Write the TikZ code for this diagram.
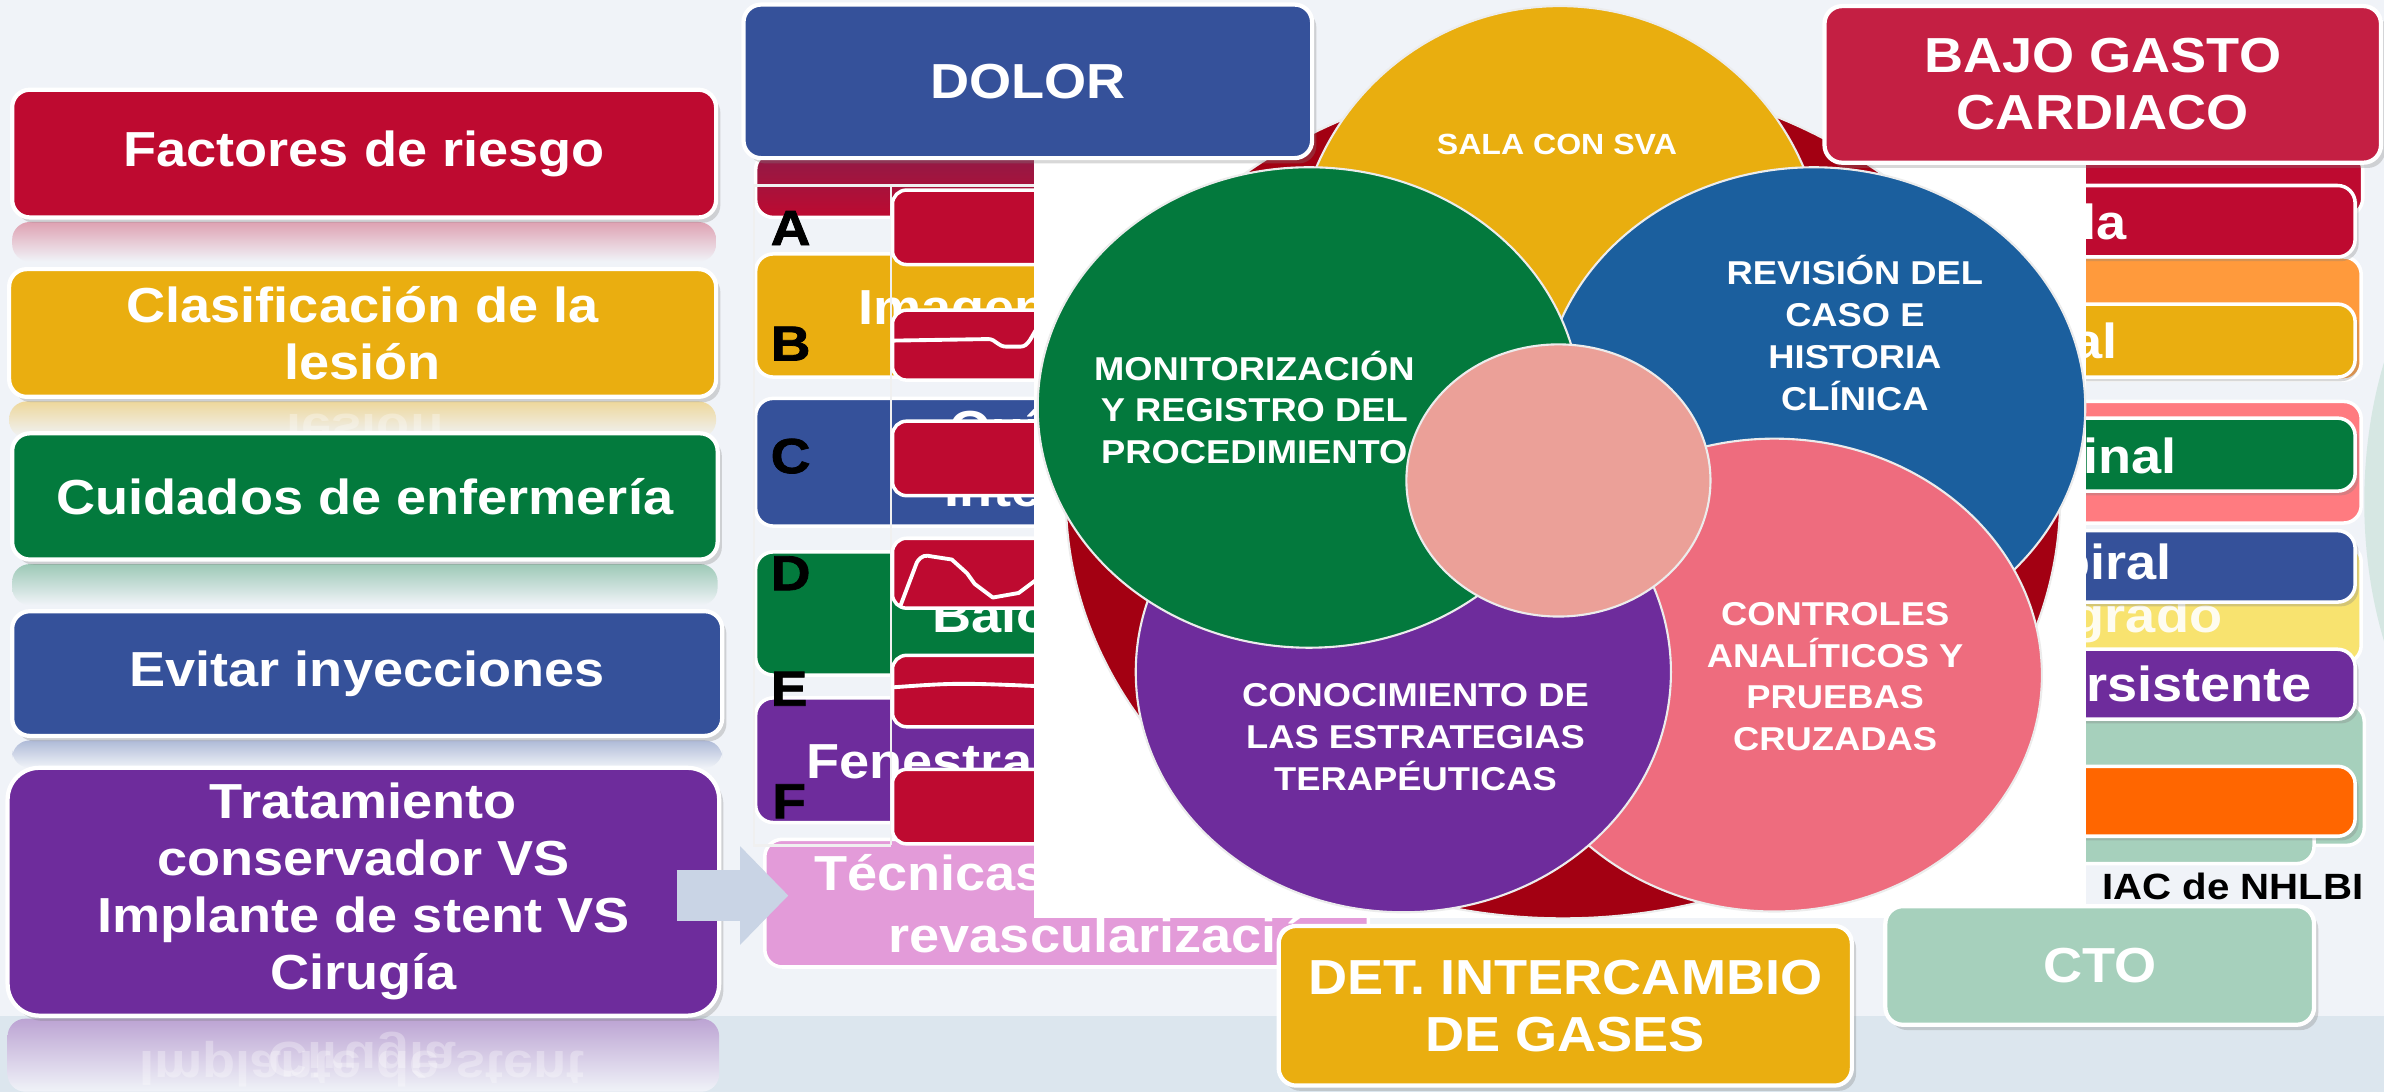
\documentclass[tikz,border=0pt]{standalone}
\usepackage{fontspec}
\setmainfont{Liberation Sans}[FakeStretch=1.1]
\newfontfamily\heavyfont{Liberation Sans}[FakeStretch=1.12,BoldFeatures={FakeBold=1.6}]
\usetikzlibrary{shapes.geometric,shadows,arrows.meta}
\definecolor{cbg}{HTML}{F0F3F8}
\definecolor{cbg2}{HTML}{DCE6EE}
\definecolor{cred}{HTML}{BE0A30}
\definecolor{cdred}{HTML}{8E1B48}
\definecolor{cyel}{HTML}{EAAE10}
\definecolor{cgrn}{HTML}{037A3D}
\definecolor{cblu}{HTML}{35519A}
\definecolor{cpur}{HTML}{6E2C9C}
\definecolor{cpnk}{HTML}{E39BD9}
\definecolor{cbajo}{HTML}{C41F43}
\definecolor{ccto}{HTML}{A6D0BC}
\definecolor{corg}{HTML}{FF9A3C}
\definecolor{corg2}{HTML}{FF6600}
\definecolor{csal}{HTML}{FF7B80}
\definecolor{cpyl}{HTML}{F8E36F}
\definecolor{carr}{HTML}{C9D4E5}
\definecolor{kred}{HTML}{A30012}
\definecolor{kyel}{HTML}{E9AE0F}
\definecolor{kgrn}{HTML}{03793D}
\definecolor{kblu}{HTML}{1B5F9E}
\definecolor{kpur}{HTML}{6E2C9C}
\definecolor{kpnk}{HTML}{EE6C7E}
\definecolor{kcen}{HTML}{EBA098}
\begin{document}
\begin{tikzpicture}[x=0.15204mm,y=-0.15204mm,
 sz/.style 2 args={minimum width=#1*0.15204mm,minimum height=#2*0.15204mm},
 bx/.style={draw=white,line width=1.2pt,rounded corners=5pt,text=white,align=center,inner sep=0pt,font=\fontsize{14}{16.2}\selectfont\bfseries,drop shadow={opacity=.3,shadow xshift=1.2pt,shadow yshift=-1.5pt}},
 mb/.style={draw=white,line width=1pt,rounded corners=5pt,inner sep=0pt},
 rb/.style={mb,drop shadow={opacity=.3,shadow xshift=1pt,shadow yshift=-1.2pt}},
 ecg/.style={fill=cred,draw=white,line width=1pt,rounded corners=4pt,inner sep=0pt},
 wv/.style={white,line width=1.1pt,line join=round},
 tx/.style={text=white,inner sep=0pt,font=\fontsize{14}{16.2}\selectfont\bfseries},
 lt/.style={inner sep=0pt,font=\fontsize{14}{14}\heavyfont\bfseries},
 ell/.style={ellipse,draw=white!85!gray,line width=.6pt,inner sep=0pt},
 ct/.style={text=white,align=center,inner sep=0pt,font=\fontsize{9.4}{11.9}\selectfont\bfseries},
 rf/.style={text=white,opacity=.3,inner sep=0pt,font=\fontsize{14}{16.2}\selectfont\bfseries}]
\useasboundingbox (0,0) rectangle (1568,718);
\fill[cbg] (0,0) rectangle (1568,718);
\fill[cbg2] (0,668) rectangle (1568,718);
\fill[ccto!35!cbg] (1705,330) ellipse [x radius=150,y radius=225];
% left column
\shade[top color=cred!35!cbg,bottom color=cbg,rounded corners=5pt] (8,146) rectangle (471,172);
\shade[top color=cyel!40!cbg,bottom color=cbg,rounded corners=5pt] (6,264) rectangle (471,288);
\node[rf] (lesionr) at (240,284) {\scalebox{1}[-1]{lesión}};
\shade[top color=cgrn!35!cbg,bottom color=cbg,rounded corners=5pt] (8,371) rectangle (472,398);
\shade[top color=cblu!35!cbg,bottom color=cbg,rounded corners=5pt] (8,487) rectangle (475,505);
\shade[top color=cpur!40!cbg,bottom color=cbg,rounded corners=5pt] (5,670) rectangle (473,718);
\node[rf] (implr) at (238,700) {\scalebox{1}[-1]{Implante de stent}};
\node[rf] (cirr) at (238,694) {\scalebox{1}[-1]{Cirugía}};
\node[bx,fill=cred,sz={463}{84}] (riesgo) at (239.5,101) {Factores de riesgo};
\node[bx,fill=cyel,sz={465}{84}] (lesion) at (238.5,219) {Clasificación de la\\lesión};
\node[bx,fill=cgrn,sz={464}{83}] (cuidados) at (240,326.5) {Cuidados de enfermería};
\node[bx,fill=cblu,sz={467}{82}] (evitar) at (241.5,443) {Evitar inyecciones};
\node[bx,fill=cpur,rounded corners=9pt,sz={468}{163}] (trat) at (239,586.5) {Tratamiento\\conservador VS\\Implante de stent VS\\Cirugía};
% middle stack
\node[mb,top color=cdred,bottom color=cred,sz={208}{43}] (dred) at (601,121.5) {};
\node[mb,fill=cyel,sz={208}{81}] (imgbox) at (601,207.5) {};
\node[mb,fill=cblu,sz={208}{84}] (quibox) at (601,304) {};
\node[mb,fill=cgrn,sz={208}{81}] (balbox) at (601,403.5) {};
\node[mb,fill=cpur,sz={208}{82}] (fenbox) at (601,500) {};
\node[mb,fill=cpnk,sz={397}{84}] (tecbox) at (701.5,594) {};
\node[tx,anchor=west] (imgt) at (564,206) {Imagen};
\node[tx,anchor=west] (quit) at (624,284) {Quí};
\node[tx,anchor=west] (intt) at (621,322) {Inte};
\node[tx,anchor=west] (balt) at (613,404) {Balón};
\node[tx,anchor=west] (fent) at (530,500) {Fenestración};
\node[tx,anchor=west] (tect) at (535,574) {Técnicas de};
\node[tx,anchor=west] (revt) at (584,615) {revascularización};
\draw[white!88!gray,line width=.7pt] (586,556) -- (496,556) -- (496,122) -- (700,122) (586,122) -- (586,556);
\node[ecg,sz={118}{49}] (ecga) at (646,149.5) {};
\node[ecg,sz={118}{46}] (ecgb) at (646,227) {};
\node[ecg,sz={118}{49}] (ecgc) at (646,301.5) {};
\node[ecg,sz={118}{46}] (ecgd) at (646,377) {};
\node[ecg,sz={118}{47}] (ecge) at (646,454.5) {};
\node[ecg,sz={118}{49}] (ecgf) at (646,530.5) {};
\draw[wv] (588,224) -- (650,223) .. controls (655,223) and (656,228) .. (662,228) -- (671,228) .. controls (677,228) and (678,221) .. (684,213);
\draw[wv] (592,399) -- (603,370) .. controls (606,365) and (609,365) .. (613,366) -- (626,368) -- (636,377) -- (641,384) -- (653,393) -- (670,390) -- (682,381);
\draw[wv] (588,452) .. controls (630,449) .. (700,452);
\node[lt] (la) at (520,150) {A};
\node[lt] (lb) at (520,226) {B};
\node[lt] (lc) at (520,300) {C};
\node[lt] (ld) at (520,377) {D};
\node[lt] (le) at (519,453) {E};
\node[lt] (lf) at (519,527) {F};
\coordinate (arra) at (445,589);
\coordinate (arrb) at (518.5,589);
\draw[carr,line width=14.3pt,-{Triangle[length=13.7pt,width=27.2pt]}] (arra) -- (arrb);
% right stack
\node[mb,fill=cred,sz={214}{42}] (rred) at (1447,121) {};
\node[mb,fill=corg,sz={213}{81}] (rorg) at (1446.5,209.5) {};
\node[mb,fill=csal,sz={213}{80}] (rsal) at (1446.5,304) {};
\node[mb,fill=cpyl,sz={213}{78}] (rpyl) at (1446.5,397) {};
\node[tx,anchor=east,opacity=.9] (gradot) at (1462,408) {grado};
\node[mb,fill=ccto,sz={215}{93}] (rcto) at (1447.5,509.5) {};
\node[mb,fill=ccto,sz={182}{28}] (rcto2) at (1431,554) {};
\node[rb,fill=cred,sz={209}{47}] (rvida) at (1444.5,145.5) {};
\node[rb,fill=cyel,sz={209}{48}] (ryel) at (1444.5,224) {};
\node[rb,fill=cgrn,sz={209}{48}] (rgrn) at (1444.5,299) {};
\node[rb,fill=cblu,sz={209}{47}] (rblu) at (1444.5,372.5) {};
\node[rb,fill=cpur,sz={209}{46}] (rpur) at (1444.5,450) {};
\node[rb,fill=corg2,sz={209}{46}] (rorg2) at (1444.5,527) {};
\node[tx,anchor=east] (vidat) at (1399,146) {vida};
\node[tx,anchor=east] (alt) at (1393,224) {al};
\node[tx,anchor=east] (inalt) at (1432,300) {inal};
\node[tx,anchor=east] (iralt) at (1429,373) {piral};
\node[tx,anchor=east] (rsist) at (1521,450) {rsistente};
\node[anchor=east,inner sep=0pt,font=\fontsize{10.4}{12}\selectfont\bfseries] (nhlbi) at (1555,583) {IAC de NHLBI};
% circles
\fill[white] (680,105) rectangle (1372,604);
\node[ell,fill=kred,sz={654}{554}] (eanillo) at (1028,327) {};
\node[ell,fill=kyel,sz={348}{348}] (esala) at (1026,178) {};
\node[ell,fill=kblu,sz={357}{316}] (erev) at (1193,268) {};
\node[ell,fill=kpnk,sz={352}{311}] (econt) at (1167,444) {};
\node[ell,fill=kpur,sz={352}{316}] (econo) at (923,442) {};
\node[ell,fill=kgrn,sz={357}{316}] (emon) at (861,268) {};
\node[ell,fill=kcen,sz={200}{179}] (ecen) at (1025,316) {};
\node[ct,font=\fontsize{8.3}{10}\selectfont\bfseries] (tsala) at (1024,95) {SALA CON SVA};
\node[ct] (tmon) at (825,268) {MONITORIZACIÓN\\Y REGISTRO DEL\\PROCEDIMIENTO};
\node[ct] (trev) at (1220,219) {REVISIÓN DEL\\CASO E\\HISTORIA\\CLÍNICA};
\node[ct] (tcono) at (931,485) {CONOCIMIENTO DE\\LAS ESTRATEGIAS\\TERAPÉUTICAS};
\node[ct] (tcont) at (1207,445) {CONTROLES\\ANALÍTICOS Y\\PRUEBAS\\CRUZADAS};
% top boxes
\node[bx,fill=cblu,sz={374}{101}] (dolor) at (676,53.5) {DOLOR};
\node[bx,fill=cbajo,sz={366}{103}] (bajo) at (1383,55.5) {BAJO GASTO\\CARDIACO};
\node[bx,fill=ccto,sz={282}{78}] (cto) at (1381,635) {CTO};
\node[bx,fill=cyel,sz={377}{105}] (det) at (1029.5,661.5) {DET. INTERCAMBIO\\DE GASES};
\end{tikzpicture}
\end{document}
